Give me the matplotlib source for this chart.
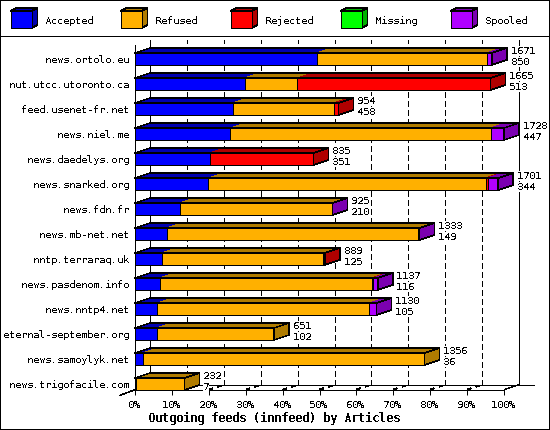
import matplotlib
matplotlib.use("Agg")
import matplotlib.pyplot as plt
from matplotlib.lines import Line2D
from matplotlib.patches import Polygon, Rectangle
from matplotlib.transforms import ScaledTranslation

plt.rcParams['font.family'] = ['DejaVu Sans Mono']
plt.rcParams['text.antialiased'] = False
plt.rcParams['text.hinting'] = 'native'
plt.rcParams['text.hinting_factor'] = 1
plt.rcParams['lines.antialiased'] = False
plt.rcParams['patch.antialiased'] = False
plt.rcParams['lines.scale_dashes'] = False

hosts = ['news.ortolo.eu', 'nut.utcc.utoronto.ca', 'feed.usenet-fr.net', 'news.niel.me',
         'news.daedelys.org', 'news.snarked.org', 'news.fdn.fr', 'news.mb-net.net',
         'nntp.terraraq.uk', 'news.pasdenom.info', 'news.nntp4.net', 'eternal-september.org',
         'news.samoylyk.net', 'news.trigofacile.com']
totals = [1671, 1665, 954, 1728, 835, 1701, 925, 1333, 889, 1137, 1130, 651, 1356, 232]
accepted = [850, 513, 458, 447, 351, 344, 210, 149, 125, 116, 105, 102, 36, 7]
refused = [797, 247, 472, 1218, 0, 1298, 712, 1178, 757, 992, 992, 549, 1320, 225]
rejected = [0, 905, 24, 0, 484, 9, 0, 0, 7, 8, 0, 0, 0, 0]
missing = [0] * 14
spooled = [24, 0, 0, 63, 0, 50, 3, 6, 0, 21, 33, 0, 0, 0]

names = ['Accepted', 'Refused', 'Rejected', 'Missing', 'Spooled']
front = ['#0000ff', '#ffb000', '#ff0000', '#00ff00', '#b000ff']
dark = ['#0000b0', '#b07c00', '#b00000', '#00b000', '#7b00b0']
series = [accepted, refused, rejected, missing, spooled]
ticks = list(range(0, 101, 10))

# depth of the fake 3d, in axis units (15px across, 5px up)
dx = 100 * 15 / 369
dy = 5 / 25
half = 0.24
scale = 100 / max(totals)
lw = 0.72
thin = 0.4
font = 7.5
# half a pixel in each axis, keeps the slanted lines on pixel centres
px = 0.5 / 3.69
py = 0.5 / 25

fig = plt.figure(figsize=(5.5, 4.3), dpi=100)
fig.add_artist(Rectangle((0, 0), 1, 1, transform=fig.transFigure, fill=False, ec='black', lw=1.44))
fig.add_artist(Line2D([0, 1], [394.5 / 430, 394.5 / 430], color='black', lw=lw))

# legend
leg = fig.add_axes([0, 395 / 430, 1, 35 / 430])
leg.set_xlim(0, 550)
leg.set_ylim(35, 0)
leg.axis('off')
for i, name in enumerate(names):
    x = 10.5 + 110 * i
    leg.add_patch(Polygon([(x, 11), (x + 6, 8), (x + 27, 8), (x + 21, 11)], fc=dark[i], ec='black', lw=thin))
    leg.add_patch(Polygon([(x + 21, 11), (x + 27, 8), (x + 27, 25), (x + 21, 28)], fc=dark[i], ec='black', lw=thin))
    leg.add_patch(Rectangle((x, 11), 21, 17, fc=front[i], ec='black', lw=lw))
    leg.text(x + 34, 20.5, name, fontsize=font, va='center', ha='left')

ax = fig.add_axes([135 / 550, 40 / 430, 369 / 550, 345 / 430])
ax.set_xlim(0, 100)
ax.set_ylim(13.24, -0.56)
ax.spines['top'].set_visible(False)
ax.spines['right'].set_visible(False)
ax.spines['left'].set_linewidth(lw)
ax.spines['bottom'].set_linewidth(lw)
ax.set_xticks(ticks)
ax.set_xticklabels([str(t) + '%' for t in ticks], fontsize=font)
ax.set_yticks(range(len(hosts)))
ax.set_yticklabels(hosts, fontsize=font)
ax.tick_params(axis='x', length=3.6, width=lw, pad=3.5)
ax.tick_params(axis='y', length=0, pad=4)
for lab in ax.get_xticklabels():
    lab.set_transform(lab.get_transform() + ScaledTranslation(-1 / 100, 0, fig.dpi_scale_trans))
ax.set_xlabel('Outgoing feeds (innfeed) by Articles', fontsize=8.4, fontweight='bold')
ax.xaxis.set_label_coords(0.377, -0.064)

# back wall and floor
bottom = 13.24
back_top = -0.76
ax.plot([dx, dx], [bottom - dy, back_top], color='black', lw=lw, clip_on=False, zorder=1)
ax.plot([100 + dx, 100 + dx], [bottom - dy, back_top], color='black', lw=lw, clip_on=False, zorder=1)
ax.plot([dx, 100 + 2 * dx + 0.1], [bottom - dy, bottom - dy], color='black', lw=lw, clip_on=False, zorder=1)
ax.plot([-16 / 3.69 + px, px], [bottom + 6 / 25 - py, bottom - py], color='black', lw=thin, clip_on=False, zorder=1)
ax.plot([100 + px, 100 + dx + px], [bottom - py, bottom - dy - py], color='black', lw=thin, clip_on=False, zorder=1)
for t in ticks[1:-1]:
    ax.plot([t + dx, t + dx], [bottom - dy, back_top], color='black', lw=lw, clip_on=False,
            zorder=1, ls=(0, (3.6, 2.16)))
    ax.plot([t + px, t + dx + px], [bottom - py, bottom - dy - py], color='black', lw=thin, clip_on=False,
            zorder=1, ls=(0, (2.2, 3.6)))

for row in range(len(hosts)):
    top_y = row - half
    low_y = row + half
    left = 0
    last = 0
    for s, values in enumerate(series):
        if values[row] == 0:
            continue
        right = left + values[row] * scale
        ax.add_patch(Polygon([(left, top_y), (left + dx, top_y - dy), (right + dx, top_y - dy), (right, top_y)],
                             fc=dark[s], ec='none', clip_on=False, zorder=3))
        ax.add_patch(Rectangle((left, top_y), right - left, low_y - top_y, fc=front[s], ec='black', lw=lw,
                               clip_on=False, zorder=4))
        left = right
        last = s
    end = totals[row] * scale
    ax.add_patch(Polygon([(0, top_y), (dx, top_y - dy), (end + dx, top_y - dy), (end, top_y)],
                         fill=False, ec='black', lw=thin, clip_on=False, zorder=5))
    ax.add_patch(Polygon([(end, top_y), (end + dx, top_y - dy), (end + dx, low_y - dy), (end, low_y)],
                         fc=dark[last], ec='black', lw=thin, clip_on=False, zorder=5))
    ax.text(end + dx + 1.0, row - 0.32, str(totals[row]), fontsize=font, va='center', ha='left', zorder=6,
            bbox=dict(fc='white', ec='none', pad=0))
    ax.text(end + dx + 1.0, row + 0.12, str(accepted[row]), fontsize=font, va='center', ha='left', zorder=6,
            bbox=dict(fc='white', ec='none', pad=0))

fig.savefig('out.png', dpi=100)
